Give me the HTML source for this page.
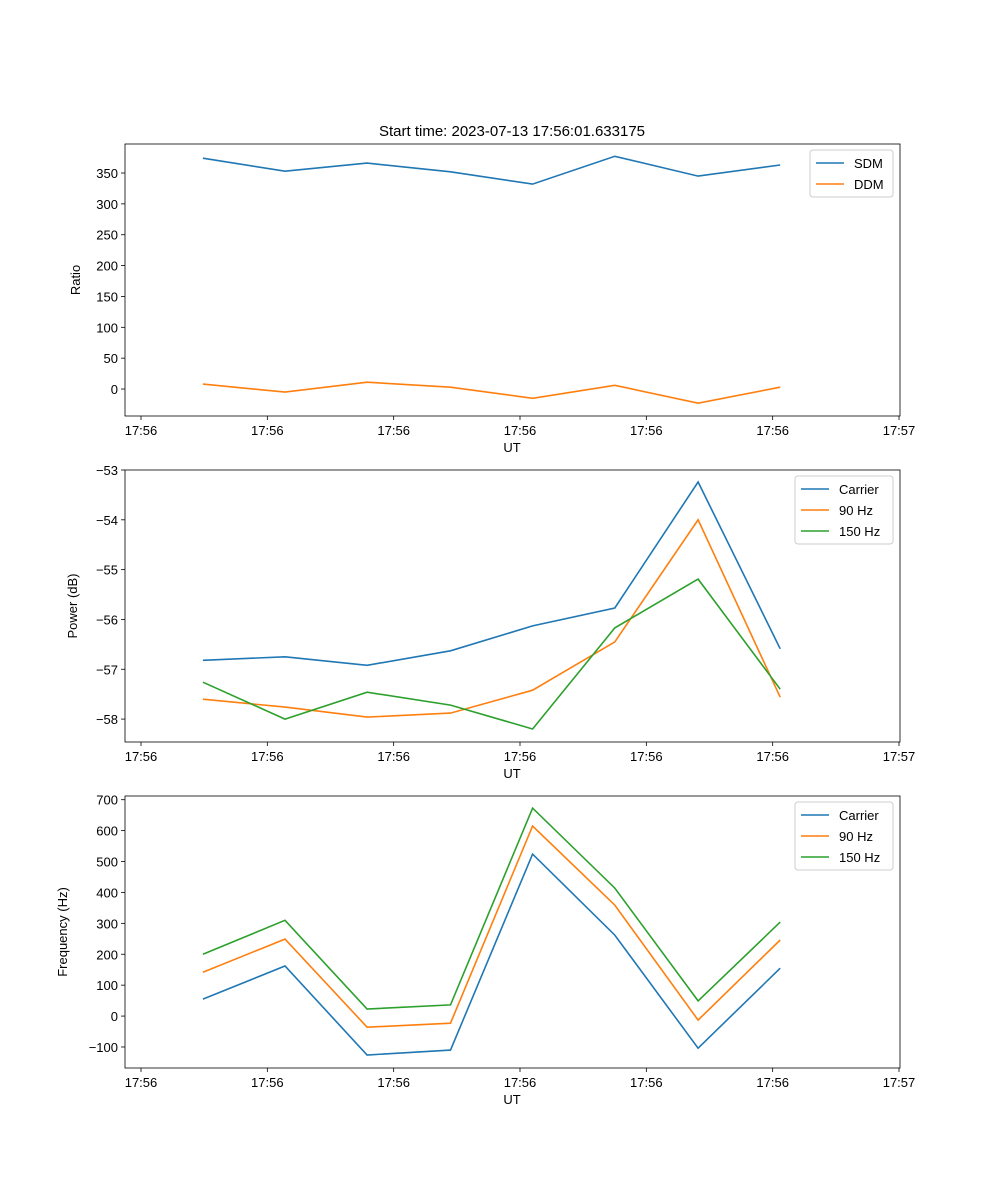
<!DOCTYPE html>
<html><head><meta charset="utf-8"><style>
body{margin:0;background:#fff}
svg{display:block;font-family:"Liberation Sans","DejaVu Sans",sans-serif}
</style></head><body>
<svg id="fig" width="1000" height="1200" xmlns="http://www.w3.org/2000/svg">
<rect width="1000" height="1200" fill="#fff"/>
<text x="512" y="136" font-size="15" text-anchor="middle">Start time: 2023-07-13 17:56:01.633175</text>
</svg>
<script>
const times = [4.9, 11.4, 17.9, 24.5, 31.0, 37.5, 44.1, 50.6];
const xTickLabels = ["17:56","17:56","17:56","17:56","17:56","17:56","17:57"];
const xTickValues = [0,10,20,30,40,50,60];
const sdm = [374, 353, 366, 352, 332, 377, 345, 363];
const ddm = [8, -5, 11, 3, -15, 6, -23, 3];
const powCarrier = [-56.82, -56.75, -56.92, -56.63, -56.13, -55.77, -53.24, -56.59];
const pow90 = [-57.6, -57.76, -57.96, -57.88, -57.42, -56.45, -54.0, -57.56];
const pow150 = [-57.26, -58.0, -57.46, -57.72, -58.2, -56.17, -55.19, -57.4];
const freqCarrier = [55, 162, -126, -110, 524, 262, -104, 155];
const freq90 = [142, 249, -36, -23, 615, 359, -13, 246];
const freq150 = [200, 310, 23, 36, 673, 414, 49, 304];
const ticks1 = [0,50,100,150,200,250,300,350];
const ticks2 = [-58,-57,-56,-55,-54,-53];
const ticks3 = [-100,0,100,200,300,400,500,600,700];

const NS="http://www.w3.org/2000/svg";
const svg=document.getElementById('fig');
function mk(tag,attrs,parent){const e=document.createElementNS(NS,tag);for(const k in attrs)e.setAttribute(k,attrs[k]);(parent||svg).appendChild(e);return e;}
const X0=125,X1=900;
function xs(t){return 141+(t-0)*(899-141)/60;}

function panel(name,top,bot,ymin,ymax,yticks,ylabel,series,legendW){
  const ys=v=>bot-(v-ymin)*(bot-top)/(ymax-ymin);
  const g=mk('g',{});
  
  
  xTickValues.forEach((v,i)=>{
    const x=xs(v);
    mk('line',{x1:x,x2:x,y1:bot,y2:bot+4,stroke:'#000','stroke-width':0.8},g);
    const t=mk('text',{x:x,y:bot+19,'font-size':13,'text-anchor':'middle'},g);
    t.textContent=xTickLabels[i];
    
    
  });
  yticks.forEach(v=>{
    const y=ys(v);
    mk('line',{x1:X0-4,x2:X0,y1:y,y2:y,stroke:'#000','stroke-width':0.8},g);
    const t=mk('text',{x:X0-7,y:y+5,'font-size':13,'text-anchor':'end'},g);
    t.textContent=(v<0?'\u2212'+(-v):String(v));
    
    
  });
  const xl=mk('text',{x:512,y:bot+36,'font-size':13,'text-anchor':'middle'},g);
  xl.textContent='UT';
  
  
  const yl=mk('text',{x:0,y:0,'font-size':13,'text-anchor':'middle',transform:`translate(${ylabel[1]},${(top+bot)/2}) rotate(-90)`},g);
  yl.textContent=ylabel[0];
  
  
  series.forEach(s=>{
    const pts=s.data.map((v,i)=>xs(times[i]).toFixed(1)+','+ys(v).toFixed(1)).join(' ');
    const p=mk('polyline',{points:pts,fill:'none',stroke:s.color,'stroke-width':1.6},g);
    
    
  });
  mk('rect',{x:X0,y:top,width:X1-X0,height:bot-top,fill:'none',stroke:'#000','stroke-width':0.8},g);
  // legend
  const lx=X1-7-legendW, ly=top+6;
  const lg=mk('g',{},g);
  
  
  mk('rect',{x:lx,y:ly,width:legendW,height:series.length*21+5,rx:3,fill:'#fff',stroke:'#ccc','stroke-width':1},lg);
  series.forEach((s,i)=>{
    const yy=ly+13+i*21;
    mk('line',{x1:lx+6,x2:lx+34,y1:yy,y2:yy,stroke:s.color,'stroke-width':1.6},lg);
    const t=mk('text',{x:lx+44,y:yy+5,'font-size':13},lg);
    t.textContent=s.label;
    
    
  });
}
const C1='#1f77b4',C2='#ff7f0e',C3='#2ca02c';
panel('ratio',144,416,-43.7,397,ticks1,['Ratio',80],[{label:'SDM',data:sdm,color:C1},{label:'DDM',data:ddm,color:C2}],83);
panel('power',470,742,-58.46,-53,ticks2,['Power (dB)',77],[{label:'Carrier',data:powCarrier,color:C1},{label:'90 Hz',data:pow90,color:C2},{label:'150 Hz',data:pow150,color:C3}],98);
panel('frequency',796,1068,-168,712,ticks3,['Frequency (Hz)',67],[{label:'Carrier',data:freqCarrier,color:C1},{label:'90 Hz',data:freq90,color:C2},{label:'150 Hz',data:freq150,color:C3}],98);
</script>
</body></html>
